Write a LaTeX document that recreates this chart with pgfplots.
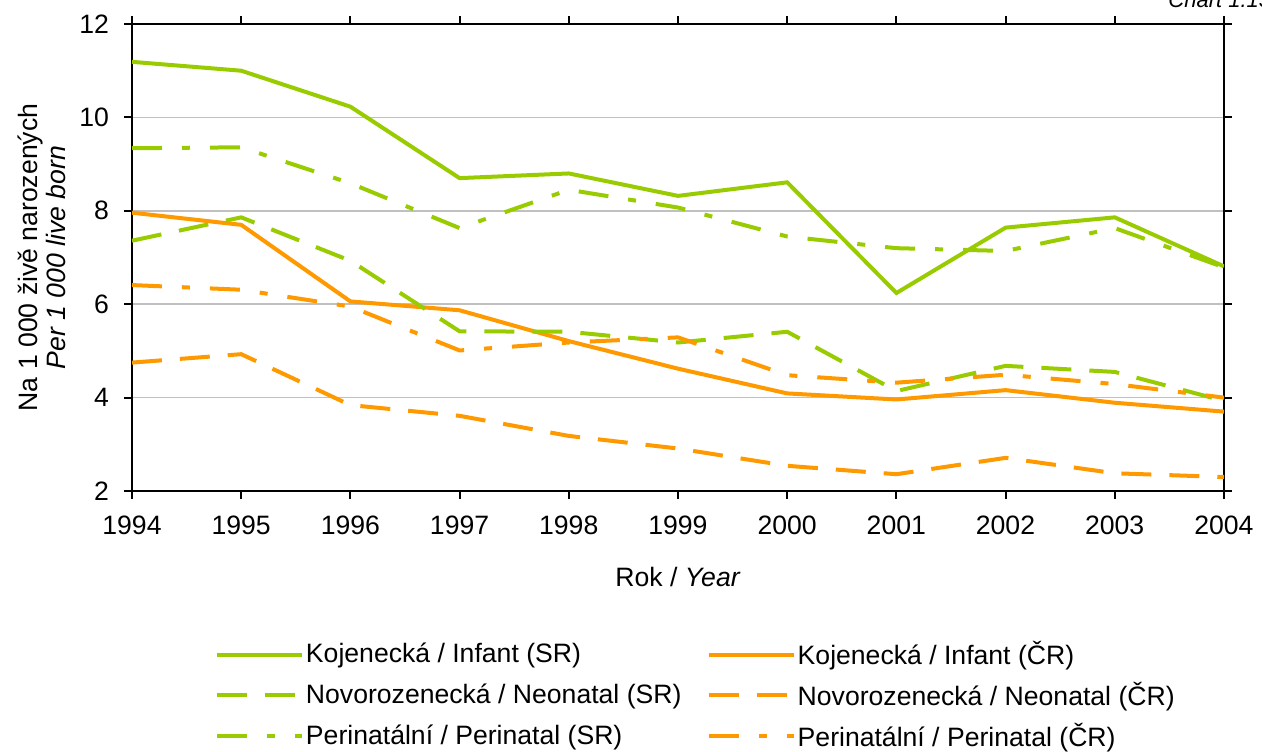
\documentclass[border=0pt]{standalone}
\usepackage{pgfplots}
\pgfplotsset{compat=1.18}
\usepackage{fontspec}
\setmainfont{Liberation Sans}
\definecolor{sgreen}{HTML}{99CC00}
\definecolor{corange}{HTML}{FF9900}
\definecolor{gridg}{HTML}{C0C0C0}
\newcommand\f{\fontsize{13.3pt}{14pt}\selectfont}
\begin{document}
\begin{tikzpicture}
\useasboundingbox (0,0) rectangle (631pt,-375.5pt);
\node[anchor=base west,font=\fontsize{11pt}{12pt}\selectfont\itshape,inner sep=0] at (584pt,-3.5pt) {Chart 1.13};
\begin{axis}[
  at={(66pt,-245.5pt)}, anchor=south west,
  width=546pt, height=233.5pt, scale only axis,
  xmin=1994, xmax=2004, ymin=2, ymax=12,
  xtick={1994,...,2004},
  xticklabels={1994,1995,1996,1997,1998,1999,2000,2001,2002,2003,2004},
  ytick={2,4,...,12},
  /pgf/number format/assume math mode=true,
  tick label style={font=\f},
  xticklabel style={yshift=-5pt},
  yticklabel style={xshift=-4pt},
  tick align=outside, major tick length=4pt,
  tick style={black, line width=1pt},
  axis line style={black, line width=1pt},
  ymajorgrids, grid style={gridg, line width=0.8pt},
  xlabel={Rok / \textit{Year}},
  xlabel style={font=\f, at={(axis description cs:0.5,-0.184)}, anchor=center},
  ylabel={Na 1 000 živě narozených\\\textit{Per 1 000 live born}},
  ylabel style={font=\f, align=center, at={(axis description cs:-0.0825,0.5)}, anchor=center},
  legend columns=2,
  legend cell align=left,
  legend style={font=\f, draw=none, fill=none, inner sep=0pt,
    at={(axis description cs:0.076,-0.318)}, anchor=north west,
    row sep=5.6pt,
    nodes={inner sep=0.8pt},
    /tikz/every even column/.append style={column sep=12pt}},
  legend image code/.code={\draw[#1] (0pt,0pt) -- (42.5pt,0pt);},
  every axis plot/.append style={line width=2pt},
]
\addplot[sgreen] coordinates {(1994,11.19)(1995,11.0)(1996,10.23)(1997,8.7)(1998,8.8)(1999,8.32)(2000,8.61)(2001,6.24)(2002,7.64)(2003,7.86)(2004,6.81)};
\addlegendentry{Kojenecká / Infant (SR)}
\addplot[corange] coordinates {(1994,7.96)(1995,7.7)(1996,6.06)(1997,5.87)(1998,5.21)(1999,4.62)(2000,4.09)(2001,3.96)(2002,4.16)(2003,3.89)(2004,3.70)};
\addlegendentry{Kojenecká / Infant (ČR)}
\addplot[sgreen, dash pattern=on 15pt off 9pt] coordinates {(1994,7.36)(1995,7.86)(1996,6.93)(1997,5.42)(1998,5.41)(1999,5.18)(2000,5.41)(2001,4.14)(2002,4.68)(2003,4.55)(2004,3.93)};
\addlegendentry{Novorozenecká / Neonatal (SR)}
\addplot[corange, dash pattern=on 15pt off 9pt] coordinates {(1994,4.75)(1995,4.93)(1996,3.84)(1997,3.61)(1998,3.18)(1999,2.91)(2000,2.54)(2001,2.36)(2002,2.71)(2003,2.38)(2004,2.30)};
\addlegendentry{Novorozenecká / Neonatal (ČR)}
\addplot[sgreen, dash pattern=on 15pt off 10pt on 4pt off 10pt] coordinates {(1994,9.34)(1995,9.36)(1996,8.59)(1997,7.63)(1998,8.45)(1999,8.07)(2000,7.45)(2001,7.2)(2002,7.14)(2003,7.63)(2004,6.79)};
\addlegendentry{Perinatální / Perinatal (SR)}
\addplot[corange, dash pattern=on 15pt off 10pt on 4pt off 10pt] coordinates {(1994,6.41)(1995,6.31)(1996,5.95)(1997,5.01)(1998,5.18)(1999,5.29)(2000,4.48)(2001,4.32)(2002,4.49)(2003,4.29)(2004,4.0)};
\addlegendentry{Perinatální / Perinatal (ČR)}
\end{axis}
\end{tikzpicture}
\end{document}
